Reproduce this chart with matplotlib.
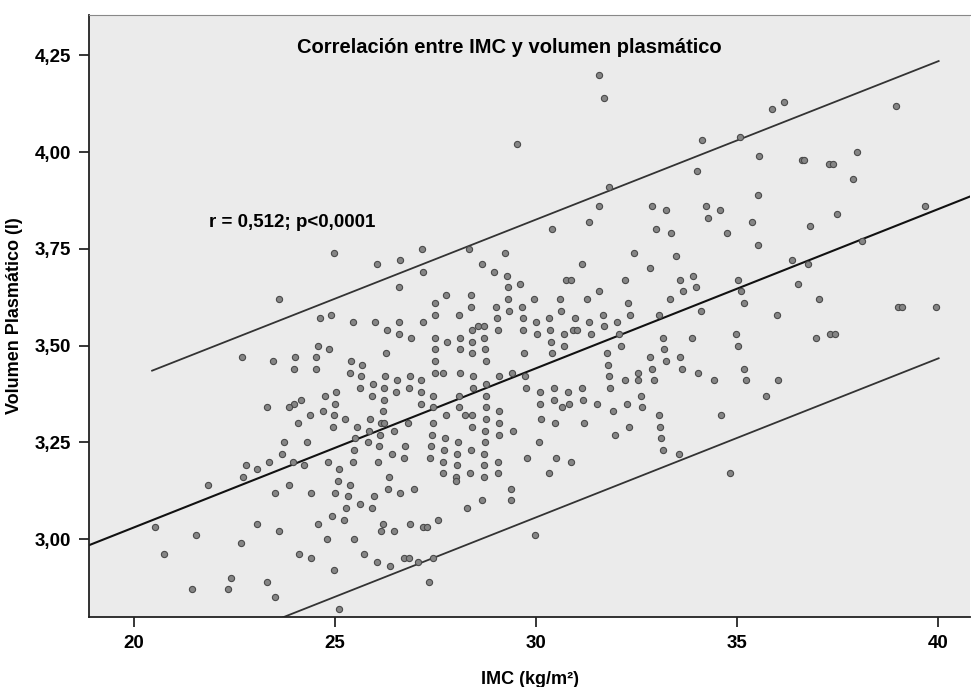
import numpy as np
import matplotlib
matplotlib.use("Agg")
import matplotlib.pyplot as plt

plt.rcParams['font.family'] = ['Liberation Sans', 'DejaVu Sans']

# IMC (kg/m2) and volumen plasmatico (l)
imc = [
    31.58, 31.70, 29.54, 31.82, 31.58, 32.88, 33.23,
    34.14, 35.08, 35.87, 36.16, 38.97, 35.56, 36.63, 36.68, 37.28, 37.39,
    37.99, 34.00, 37.90, 35.52, 34.22, 34.59, 39.68,
    24.98, 26.05, 23.61, 24.63, 24.91, 25.45, 26.00, 24.58, 24.85, 22.69,
    23.46, 24.00, 24.54, 23.97, 24.53, 25.39, 25.67, 25.37, 25.66, 25.94,
    25.63, 25.03, 24.74, 25.91, 24.15, 23.97, 23.85, 23.30, 25.01,
    31.33, 30.41, 32.99, 27.16, 28.33, 29.24, 26.61, 27.18, 28.65, 28.96,
    29.28, 31.15, 32.43, 32.84, 32.21, 30.76, 30.88, 26.60, 29.30, 29.61,
    31.57, 27.49, 27.77, 28.38, 28.39, 29.31, 29.95, 30.61, 31.27, 32.30,
    33.33, 27.49, 28.09, 29.01, 29.33, 29.65, 30.63, 29.02, 29.67, 30.32,
    30.98, 31.67, 32.35, 33.05, 26.59, 27.18, 29.99, 31.33, 32.02, 26.30,
    26.59, 28.42, 28.57, 28.72, 29.05, 29.69, 30.34, 30.91, 31.02, 31.69,
    26.88, 27.49, 28.10, 28.72, 30.02, 30.69, 31.37, 32.06, 33.16, 27.79,
    28.42, 30.37, 27.49, 28.10, 28.74, 30.71, 32.11, 33.18, 26.27, 28.42,
    29.71, 30.39, 31.77, 32.85, 27.49, 28.75, 31.80, 33.23, 32.89, 27.49,
    27.69, 28.10, 29.41, 32.55, 26.24, 26.86, 28.43, 29.08, 29.73, 31.82,
    26.54, 27.15, 32.21, 32.55, 32.94, 26.23, 26.84, 28.43, 28.75, 29.76,
    30.44, 31.14, 31.85, 26.53, 27.15, 30.10, 30.80, 26.21, 27.14, 27.45,
    28.09, 28.76, 30.46, 30.82, 31.16, 32.62, 30.11, 31.53, 32.26, 27.44,
    28.09, 28.75, 30.64, 32.65,
    34.29, 35.38, 37.48, 36.83, 33.37, 34.75, 35.53, 33.48, 38.12, 36.36,
    36.78, 33.59, 33.92, 35.03, 33.65, 33.99, 35.10, 36.53, 35.17, 37.05,
    34.10, 36.01, 39.01, 39.12, 39.95, 33.89, 34.98, 35.03, 36.96, 37.32,
    37.43, 33.58, 33.63, 34.04, 35.17, 34.44, 35.23, 36.03, 35.72,
    24.39, 24.70, 24.98, 25.26, 25.86, 24.08, 24.94, 25.55, 25.85, 23.73,
    24.30, 25.51, 25.81, 23.67, 25.48, 26.10, 22.79, 23.05, 23.37, 23.95,
    24.22, 24.83, 25.44, 26.07, 25.11, 22.72, 21.85, 23.85, 25.07, 25.37,
    23.52, 24.40, 25.01, 25.32, 25.96, 25.27, 25.62, 25.92, 24.92, 25.22,
    24.58, 20.52, 21.55, 23.05, 23.61, 22.65, 24.81, 25.47, 20.74, 24.10,
    24.40, 25.72, 26.05, 24.98, 22.41, 23.32, 21.45, 22.33, 23.52, 25.09,
    26.19, 26.15, 26.23, 26.12, 26.46, 26.81, 27.43, 27.76, 28.24, 28.41,
    29.08, 28.75, 29.09, 28.41, 28.74, 29.08, 29.43, 30.12, 30.48, 31.20,
    31.92, 33.05, 32.32, 33.08, 31.96, 33.12, 33.15, 27.42, 27.74, 28.05,
    28.74, 30.07, 26.74, 27.39, 27.72, 28.38, 26.41, 28.04, 28.71, 26.72,
    27.37, 27.69, 28.03, 28.71, 29.06, 29.78, 30.50, 30.87, 27.68, 28.01,
    28.01, 28.35, 28.71, 29.05, 30.32, 26.34, 26.31, 26.63, 26.97, 29.39,
    29.39, 28.67, 28.29, 26.19, 26.86, 26.14, 26.47, 27.18, 27.30, 27.56,
    29.98, 26.37, 26.72, 26.85, 27.06, 27.45, 27.35,
    34.60, 33.56, 34.83,
]
volumen = [
    4.20, 4.14, 4.02, 3.91, 3.86, 3.86, 3.85,
    4.03, 4.04, 4.11, 4.13, 4.12, 3.99, 3.98, 3.98, 3.97, 3.97,
    4.00, 3.95, 3.93, 3.89, 3.86, 3.85, 3.86,
    3.74, 3.71, 3.62, 3.57, 3.58, 3.56, 3.56, 3.50, 3.49, 3.47,
    3.46, 3.47, 3.47, 3.44, 3.44, 3.46, 3.45, 3.43, 3.42, 3.40,
    3.39, 3.38, 3.37, 3.37, 3.36, 3.35, 3.34, 3.34, 3.35,
    3.82, 3.80, 3.80, 3.75, 3.75, 3.74, 3.72, 3.69, 3.71, 3.69,
    3.68, 3.71, 3.74, 3.70, 3.67, 3.67, 3.67, 3.65, 3.65, 3.66,
    3.64, 3.61, 3.63, 3.63, 3.60, 3.62, 3.62, 3.62, 3.62, 3.61,
    3.62, 3.58, 3.58, 3.60, 3.59, 3.60, 3.59, 3.57, 3.57, 3.57,
    3.57, 3.58, 3.58, 3.58, 3.56, 3.56, 3.56, 3.56, 3.56, 3.54,
    3.53, 3.54, 3.55, 3.55, 3.54, 3.54, 3.54, 3.54, 3.54, 3.55,
    3.52, 3.52, 3.52, 3.52, 3.53, 3.53, 3.53, 3.53, 3.52, 3.51,
    3.51, 3.51, 3.49, 3.49, 3.49, 3.50, 3.50, 3.49, 3.48, 3.48,
    3.48, 3.48, 3.48, 3.47, 3.46, 3.46, 3.45, 3.46, 3.44, 3.43,
    3.43, 3.43, 3.43, 3.43, 3.42, 3.42, 3.42, 3.42, 3.42, 3.42,
    3.41, 3.41, 3.41, 3.41, 3.41, 3.39, 3.39, 3.39, 3.40, 3.39,
    3.39, 3.39, 3.39, 3.38, 3.38, 3.38, 3.38, 3.36, 3.35, 3.37,
    3.37, 3.37, 3.36, 3.35, 3.36, 3.37, 3.35, 3.35, 3.35, 3.34,
    3.34, 3.34, 3.34, 3.34,
    3.83, 3.82, 3.84, 3.81, 3.79, 3.79, 3.76, 3.73, 3.77, 3.72,
    3.71, 3.67, 3.68, 3.67, 3.64, 3.65, 3.64, 3.66, 3.61, 3.62,
    3.59, 3.58, 3.60, 3.60, 3.60, 3.52, 3.53, 3.50, 3.52, 3.53,
    3.53, 3.47, 3.44, 3.43, 3.44, 3.41, 3.41, 3.41, 3.37,
    3.32, 3.33, 3.32, 3.31, 3.31, 3.30, 3.29, 3.29, 3.28, 3.25,
    3.25, 3.26, 3.25, 3.22, 3.23, 3.24, 3.19, 3.18, 3.20, 3.20,
    3.19, 3.20, 3.20, 3.20, 3.18, 3.16, 3.14, 3.14, 3.15, 3.14,
    3.12, 3.12, 3.12, 3.11, 3.11, 3.08, 3.09, 3.08, 3.06, 3.05,
    3.04, 3.03, 3.01, 3.04, 3.02, 2.99, 3.00, 3.00, 2.96, 2.96,
    2.95, 2.96, 2.94, 2.92, 2.90, 2.89, 2.87, 2.87, 2.85, 2.82,
    3.33, 3.30, 3.30, 3.27, 3.28, 3.30, 3.30, 3.32, 3.32, 3.32,
    3.33, 3.31, 3.30, 3.29, 3.28, 3.27, 3.28, 3.31, 3.30, 3.30,
    3.33, 3.32, 3.29, 3.29, 3.27, 3.26, 3.23, 3.27, 3.26, 3.25,
    3.25, 3.25, 3.24, 3.24, 3.23, 3.23, 3.22, 3.22, 3.22, 3.21,
    3.21, 3.20, 3.19, 3.19, 3.20, 3.21, 3.21, 3.20, 3.17, 3.16,
    3.15, 3.17, 3.16, 3.17, 3.17, 3.16, 3.13, 3.12, 3.13, 3.13,
    3.10, 3.10, 3.08, 3.04, 3.04, 3.02, 3.02, 3.03, 3.03, 3.05,
    3.01, 2.93, 2.95, 2.95, 2.94, 2.95, 2.89,
    3.32, 3.22, 3.17,
]

# fit line (whole axis) and 95% individual prediction band (data range)
fit_x = [18.88, 40.80]
fit_y = [2.984, 3.885]
band_x = [20.45, 40.02]
band_hi = [3.435, 4.235]
band_lo = [2.664, 3.467]

xticks = [20, 25, 30, 35, 40]
yticks = [3.00, 3.25, 3.50, 3.75, 4.00, 4.25]
ytick_labels = ["3,00", "3,25", "3,50", "3,75", "4,00", "4,25"]

fig = plt.figure(figsize=(9.71, 6.87), dpi=100)
ax = fig.add_axes([89/971, 1-617/687, (970-89)/971, (617-15)/687])
ax.set_facecolor("#ebebeb")

ax.plot(fit_x, fit_y, color="#111111", lw=1.5, zorder=2)
ax.plot(band_x, band_hi, color="#333333", lw=1.3, zorder=2)
ax.plot(band_x, band_lo, color="#333333", lw=1.3, zorder=2)
ax.scatter(imc, volumen, s=20, facecolor="#858585", edgecolor="#4a4a4a",
           linewidth=0.8, zorder=3)

ax.set_xlim(18.88, 40.80)
ax.set_ylim(2.7985, 4.354)
ax.set_xticks(xticks)
ax.set_xticklabels([str(t) for t in xticks])
ax.set_yticks(yticks)
ax.set_yticklabels(ytick_labels)
ax.tick_params(direction="out", length=7, width=1.1, labelsize=13.5, pad=6)
for lab in ax.get_xticklabels() + ax.get_yticklabels():
    lab.set_fontweight("bold")

for side in ["left", "bottom"]:
    ax.spines[side].set_color("#222222")
    ax.spines[side].set_linewidth(1.3)
ax.spines["top"].set_color("#888888")
ax.spines["right"].set_visible(False)

ax.set_xlabel("IMC (kg/m²)", fontsize=13, fontweight="bold", labelpad=14)
ax.set_ylabel("Volumen Plasmático (l)", fontsize=13, fontweight="bold", labelpad=8)

ax.text(29.35, 4.271, "Correlación entre IMC y volumen plasmático",
        ha="center", va="center", fontsize=14.5, fontweight="bold")
ax.text(23.94, 3.819, "r = 0,512; p<0,0001",
        ha="center", va="center", fontsize=13.5, fontweight="bold")

fig.savefig("out.png", dpi=100)
